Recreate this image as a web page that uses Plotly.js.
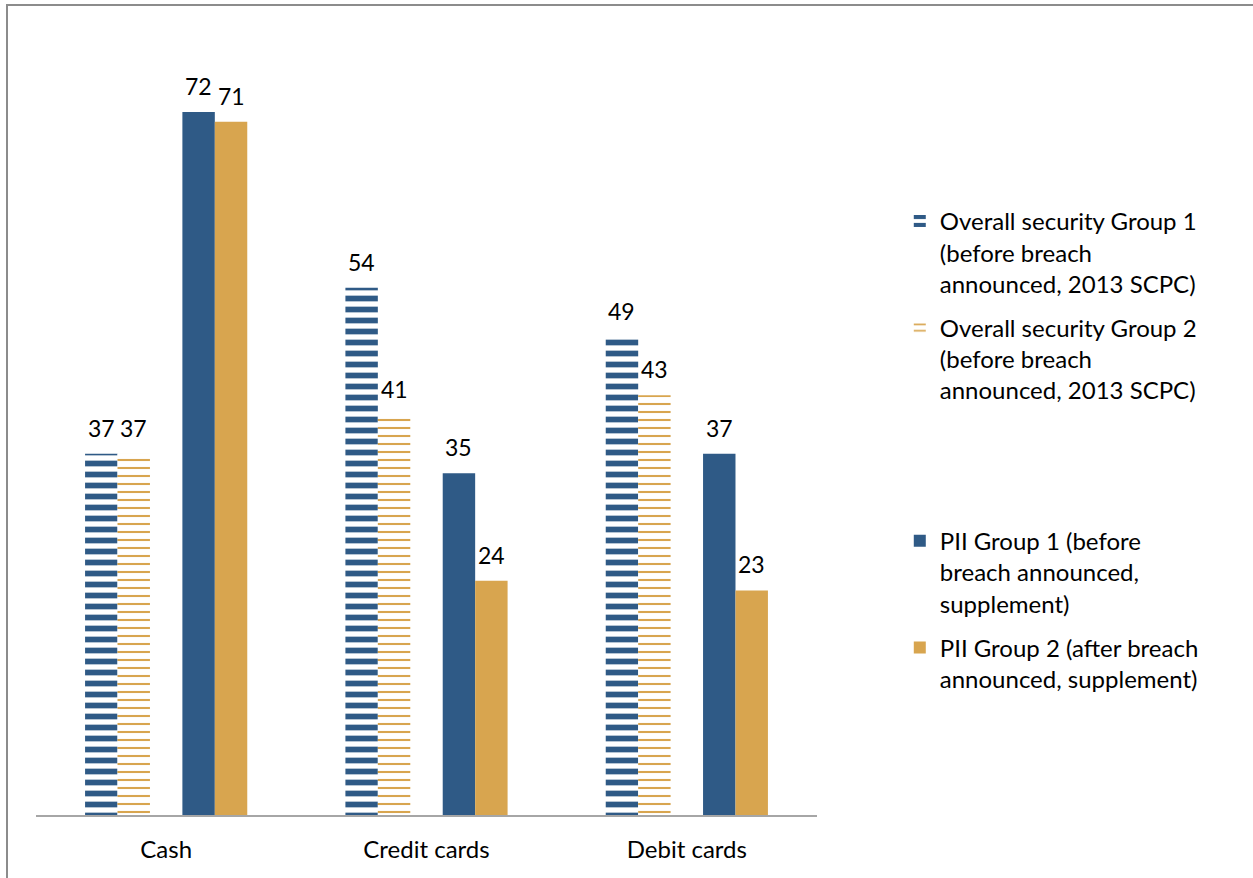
<!DOCTYPE html>
<html>
<head>
<meta charset="utf-8">
<script src="https://cdn.plot.ly/plotly-3.0.1.min.js"></script>
<style>
  html, body { margin: 0; padding: 0; background: #fff; overflow: hidden; }
  #chart { width: 1253px; height: 878px; }
  #frame { position: absolute; left: 6px; top: 4px; width: 1300px; height: 1000px;
           border-left: 2px solid #8c8c8c; border-top: 2px solid #8c8c8c; pointer-events: none; }
</style>
</head>
<body>
<div id="chart"></div>
<div id="frame"></div>
<script>
const categories = ["Cash", "Credit cards", "Debit cards"];
const overallGroup1 = [37, 54, 49];
const overallGroup2 = [37, 41, 43];
const spacer = [null, null, null];
const piiGroup1 = [72, 35, 37];
const piiGroup2 = [71, 24, 23];

const names = [
  "Overall security Group 1<br>(before breach<br>announced, 2013 SCPC)",
  "Overall security Group 2<br>(before breach<br>announced, 2013 SCPC)",
  " <br> <br> ",
  "PII Group 1 (before<br>breach announced,<br>supplement)",
  "PII Group 2 (after breach<br>announced, supplement)"
];

const BLUE = "#2F5A86";
const GOLD = "#D8A54F";
const FONT = "Lato, 'Open Sans', sans-serif";

const MARGIN = {l: 36, r: 436, t: 40, b: 63};
const BARGAP = 0.377;
const W = 1253, H = 878;

function bar(vals, name, color, pattern, grp) {
  const t = {
    type: "bar", x: categories, y: vals, name: name, legendgroup: grp,
    marker: {color: color, line: {width: 0}},
    hoverinfo: "skip"
  };
  if (pattern) t.marker.pattern = pattern;
  return t;
}

const seriesList = [overallGroup1, overallGroup2, spacer, piiGroup1, piiGroup2];

const data = [
  bar(overallGroup1, names[0], BLUE, {shape: "-", size: 11, solidity: 0.52, fgcolor: BLUE, bgcolor: "#ffffff"}, "g1"),
  bar(overallGroup2, names[1], GOLD, {shape: "-", size: 8, solidity: 0.26, fgcolor: GOLD, bgcolor: "#ffffff"}, "g2"),
  bar(spacer, names[2], "rgba(0,0,0,0)", null, "g3"),
  bar(piiGroup1, names[3], BLUE, null, "g4"),
  bar(piiGroup2, names[4], GOLD, null, "g5")
];

// value labels: placed at each bar's category/value, shifted by the bar's slot within the group
const plotW = W - MARGIN.l - MARGIN.r;
const slotW = plotW / categories.length * (1 - BARGAP) / seriesList.length;
const annotations = [];
seriesList.forEach((vals, i) => {
  vals.forEach((v, j) => {
    if (v == null) return;
    annotations.push({
      x: categories[j], y: v, xref: "x", yref: "y",
      text: String(v), showarrow: false,
      xanchor: "center", yanchor: "bottom",
      xshift: (i - (seriesList.length - 1) / 2) * slotW, yshift: 10,
      font: {family: FONT, size: 23, color: "#000"}
    });
  });
});

const layout = {
  width: W, height: H,
  margin: MARGIN,
  paper_bgcolor: "#fff", plot_bgcolor: "#fff",
  font: {family: FONT, size: 22, color: "#000"},
  barmode: "group", bargap: BARGAP, bargroupgap: 0,
  showlegend: true,
  annotations: annotations,
  legend: {
    x: 1.106, xanchor: "left", y: 0.795, yanchor: "top",
    font: {family: FONT, size: 24, color: "#000"},
    valign: "top", tracegroupgap: 10, itemwidth: 30,
    bgcolor: "rgba(0,0,0,0)"
  },
  xaxis: {
    showline: true, linecolor: "#a6a6a6", linewidth: 2,
    ticks: "", showgrid: false, zeroline: false,
    ticklabelstandoff: 12,
    tickfont: {family: FONT, size: 24, color: "#000"}
  },
  yaxis: {
    range: [0, 79.37], visible: false, showgrid: false, zeroline: false
  }
};

Plotly.newPlot("chart", data, layout, {displayModeBar: false, staticPlot: true});
</script>
</body>
</html>
